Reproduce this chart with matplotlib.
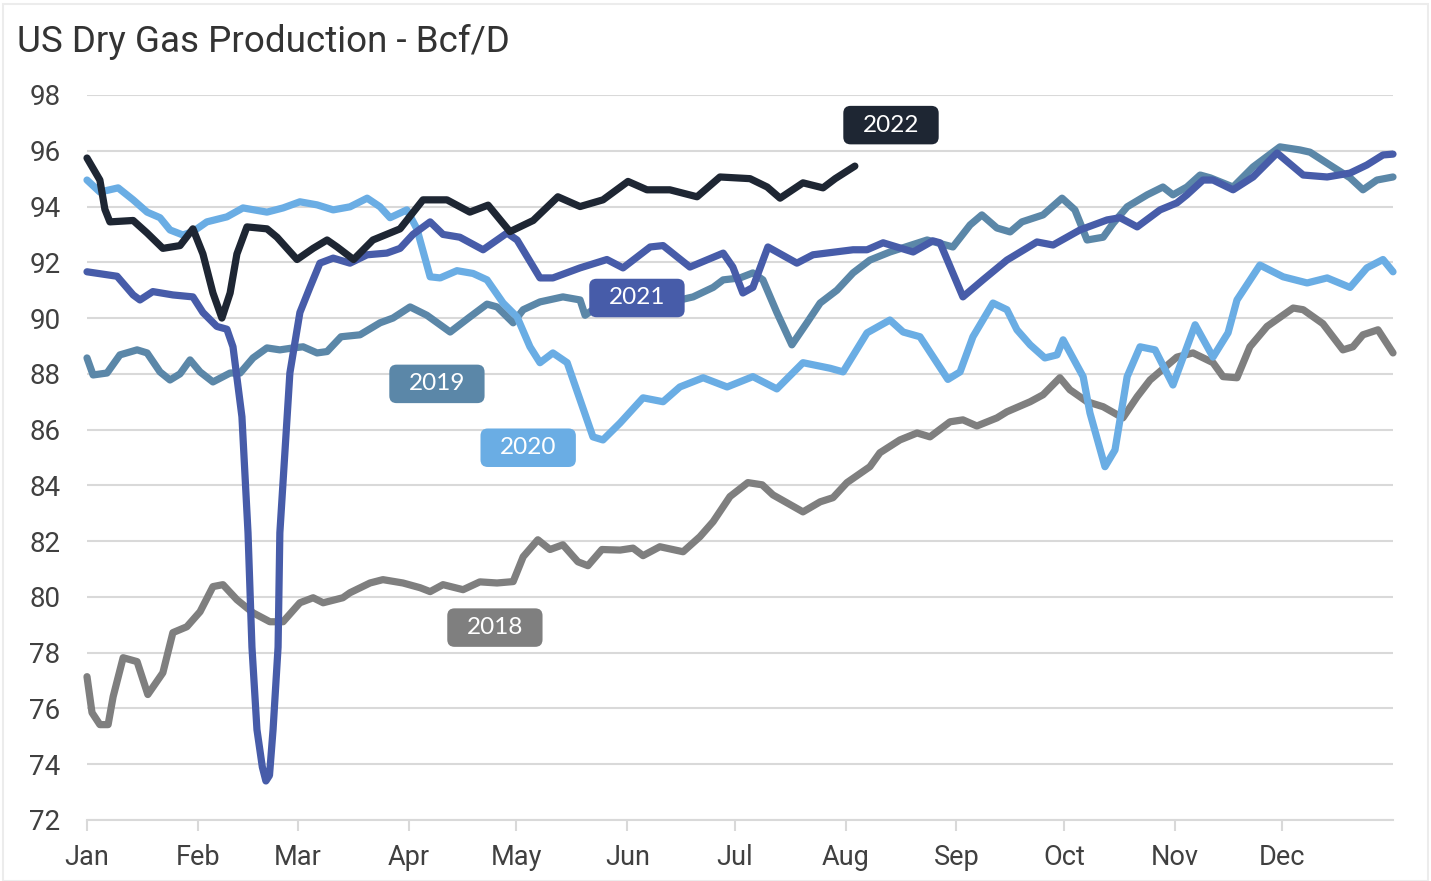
import numpy as np
import matplotlib
matplotlib.use("Agg")
import matplotlib.pyplot as plt
from matplotlib.patches import Rectangle, BoxStyle

# day of year (0 = Jan 1) and Bcf/D
days_2018 = [0, 1.4, 3.6, 5.9, 7.3, 10.1, 14.0, 17.0, 21.2, 24.0, 27.9, 31.6, 35.2, 38.0, 41.9,
             46.4, 51.1, 54.8, 59.5, 63.2, 66.0, 71.5, 73.5, 79.1, 82.7, 88.3, 93.1, 95.9, 99.5,
             105.1, 109.8, 114.6, 119.1, 121.9, 126.0, 129.4, 133.0, 137.2, 140.0, 143.9, 149.0,
             152.6, 155.4, 160.1, 166.6, 171.3, 175.0, 179.7, 184.7, 188.7, 191.7, 200.1, 204.9,
             208.5, 212.4, 218.8, 221.6, 227.2, 232.0, 235.6, 241.2, 244.8, 248.7, 254.3, 257.1,
             263.6, 267.2, 271.9, 274.7, 279.5, 284.0, 289.5, 293.5, 297.1, 304.6, 309.1, 314.7,
             317.5, 321.4, 325.0, 329.8, 337.1, 339.9, 345.4, 351.0, 353.8, 356.6, 360.8, 365]
vals_2018 = [77.14, 75.85, 75.42, 75.42, 76.42, 77.82, 77.68, 76.5, 77.28, 78.72, 78.93, 79.47,
             80.37, 80.44, 79.9, 79.43, 79.11, 79.11, 79.79, 79.97, 79.79, 79.97, 80.15, 80.5,
             80.62, 80.5, 80.33, 80.19, 80.44, 80.26, 80.54, 80.5, 80.55, 81.44, 82.05, 81.7,
             81.87, 81.26, 81.12, 81.7, 81.68, 81.75, 81.48, 81.8, 81.62, 82.16, 82.7, 83.6, 84.1,
             84.02, 83.66, 83.05, 83.41, 83.56, 84.1, 84.67, 85.17, 85.63, 85.88, 85.74, 86.28,
             86.35, 86.13, 86.42, 86.64, 87.0, 87.25, 87.86, 87.43, 87.0, 86.82, 86.42, 87.18,
             87.78, 88.6, 88.75, 88.4, 87.9, 87.86, 88.97, 89.7, 90.36, 90.3, 89.8, 88.86, 88.97,
             89.4, 89.58, 88.75]

days_2019 = [0, 1.7, 5.6, 9.2, 14.0, 16.8, 20.4, 23.2, 26.0, 28.8, 31.6, 35.2, 40.0, 42.8, 46.4,
             50.3, 53.9, 57.6, 60.4, 64.3, 67.1, 71.0, 76.3, 81.9, 85.5, 90.3, 95.0, 101.5, 107.0,
             111.8, 114.6, 119.1, 121.9, 126.6, 133.0, 137.8, 139.2, 142.5, 146.2, 156.0, 165.7,
             169.4, 175.0, 177.8, 182.5, 186.1, 188.9, 192.8, 197.0, 201.2, 204.9, 209.6, 214.1,
             218.8, 224.4, 234.8, 242.0, 246.8, 250.1, 254.3, 258.0, 261.3, 267.2, 272.5, 276.1,
             279.5, 284.0, 286.8, 290.7, 296.3, 300.7, 303.5, 307.4, 311.1, 313.9, 320.3, 325.9,
             333.4, 339.0, 341.8, 348.2, 353.0, 356.6, 360.5, 365]
vals_2019 = [88.57, 87.96, 88.03, 88.68, 88.86, 88.75, 88.07, 87.78, 88.0, 88.5, 88.07, 87.71,
             88.03, 88.03, 88.57, 88.93, 88.86, 88.93, 88.97, 88.75, 88.8, 89.33, 89.4, 89.83,
             90.0, 90.4, 90.1, 89.5, 90.04, 90.5, 90.4, 89.83, 90.3, 90.58, 90.76, 90.65, 90.1,
             90.4, 90.58, 90.6, 90.65, 90.76, 91.1, 91.37, 91.44, 91.62, 91.37, 90.2, 89.04, 89.83,
             90.54, 91.0, 91.62, 92.08, 92.37, 92.8, 92.55, 93.34, 93.7, 93.23, 93.09, 93.45, 93.7,
             94.3, 93.88, 92.8, 92.9, 93.4, 93.99, 94.42, 94.7, 94.42, 94.7, 95.13, 95.03, 94.7,
             95.42, 96.14, 96.03, 95.95, 95.42, 95.03, 94.6, 94.95, 95.06]

days_2020 = [0, 3.6, 8.7, 12.9, 16.8, 20.4, 23.2, 26.8, 29.6, 33.5, 39.1, 43.6, 50.3, 54.8, 59.5,
             64.3, 68.8, 73.5, 78.3, 81.9, 84.7, 89.4, 92.2, 95.9, 98.7, 103.4, 107.9, 111.8,
             116.3, 120.2, 123.8, 126.6, 130.2, 134.2, 137.8, 141.4, 144.2, 149.0, 155.4, 161.0,
             165.7, 172.2, 178.9, 186.1, 192.8, 200.1, 207.7, 211.3, 218.0, 224.4, 228.1, 232.8,
             240.6, 244.0, 247.6, 253.2, 257.1, 259.9, 263.6, 267.7, 271.1, 272.8, 278.4, 280.3,
             284.5, 287.3, 290.7, 294.3, 298.5, 303.5, 309.7, 314.7, 318.9, 321.4, 327.8, 334.3,
             341.0, 346.6, 353.0, 357.7, 362.2, 365]
vals_2020 = [94.95, 94.52, 94.67, 94.24, 93.8, 93.6, 93.16, 92.98, 93.1, 93.45, 93.63, 93.95,
             93.8, 93.95, 94.17, 94.06, 93.88, 93.99, 94.3, 93.99, 93.6, 93.88, 93.2, 91.48, 91.44,
             91.7, 91.6, 91.37, 90.54, 90.04, 88.97, 88.4, 88.75, 88.4, 87.07, 85.74, 85.63, 86.24,
             87.14, 87.0, 87.53, 87.86, 87.53, 87.9, 87.46, 88.4, 88.2, 88.07, 89.47, 89.93, 89.5,
             89.33, 87.8, 88.07, 89.33, 90.54, 90.3, 89.58, 89.04, 88.57, 88.68, 89.22, 87.9, 86.6,
             84.67, 85.27, 87.9, 88.97, 88.86, 87.6, 89.76, 88.6, 89.47, 90.65, 91.9, 91.48, 91.26,
             91.44, 91.1, 91.8, 92.1, 91.66]

days_2021 = [0, 8.4, 12.9, 14.8, 18.4, 24.0, 29.6, 32.4, 36.3, 39.1, 40.8, 43.3, 45.0, 46.1, 47.5,
             49.0, 50.0, 51.0, 52.0, 53.4, 53.9, 56.7, 59.5, 62.3, 65.1, 68.8, 73.5, 78.3, 83.8,
             87.5, 91.1, 95.9, 99.5, 104.2, 110.7, 117.4, 120.2, 126.6, 130.2, 137.8, 145.3, 149.8,
             157.4, 161.0, 168.5, 177.8, 180.5, 183.3, 186.1, 190.3, 198.4, 202.9, 214.1, 218.0,
             222.5, 230.9, 236.4, 238.4, 244.8, 250.4, 257.1, 265.5, 270.0, 277.5, 285.1, 288.7,
             293.5, 299.9, 304.6, 307.4, 311.9, 314.7, 320.3, 325.9, 329.8, 332.6, 339.9, 346.6,
             353.0, 357.7, 362.2, 365]
vals_2021 = [91.66, 91.5, 90.83, 90.65, 90.95, 90.83, 90.76, 90.2, 89.7, 89.6, 88.97, 86.46, 82.3,
             78.2, 75.24, 73.9, 73.4, 73.6, 75.24, 78.2, 82.3, 88.03, 90.2, 91.1, 91.97, 92.15,
             91.97, 92.27, 92.33, 92.5, 93.0, 93.45, 93.0, 92.9, 92.45, 93.05, 92.8, 91.44, 91.44,
             91.8, 92.1, 91.8, 92.55, 92.6, 91.83, 92.33, 91.83, 90.9, 91.1, 92.55, 91.97, 92.27,
             92.45, 92.45, 92.7, 92.37, 92.77, 92.7, 90.76, 91.37, 92.08, 92.73, 92.62, 93.16,
             93.52, 93.6, 93.27, 93.88, 94.13, 94.42, 94.95, 94.95, 94.6, 95.06, 95.56, 95.92,
             95.13, 95.06, 95.2, 95.49, 95.85, 95.88]

days_2022 = [0, 3.6, 5.0, 6.4, 12.9, 16.8, 21.2, 26.0, 29.6, 32.4, 35.2, 37.7, 40.0, 41.9, 44.7,
             50.3, 53.1, 58.7, 63.2, 67.1, 69.9, 74.5, 79.9, 87.5, 93.9, 100.6, 107.0, 112.1,
             118.2, 124.7, 131.6, 137.8, 144.2, 151.2, 156.5, 162.9, 170.5, 176.9, 185.3, 190.1,
             193.7, 200.1, 205.7, 209.1, 214.6]
vals_2022 = [95.74, 94.95, 93.9, 93.45, 93.5, 93.05, 92.5, 92.6, 93.2, 92.3, 90.9, 90.0, 90.9,
             92.3, 93.27, 93.2, 92.9, 92.1, 92.5, 92.8, 92.55, 92.1, 92.8, 93.2, 94.24, 94.24,
             93.8, 94.05, 93.1, 93.5, 94.35, 94.0, 94.24, 94.9, 94.6, 94.6, 94.35, 95.06, 95.0,
             94.7, 94.3, 94.85, 94.67, 95.0, 95.45]

years = ["2018", "2019", "2020", "2021", "2022"]
colors = ["#7f7f7f", "#5b87a8", "#6aade4", "#475ca9", "#1e2633"]
series = [(days_2018, vals_2018), (days_2019, vals_2019), (days_2020, vals_2020),
          (days_2021, vals_2021), (days_2022, vals_2022)]

# where the year tags sit (day, value)
tag_pos = [(114, 78.9), (97.8, 87.64), (123.3, 85.35), (153.7, 90.72), (224.7, 96.92)]

month_starts = [0, 31, 59, 90, 120, 151, 181, 212, 243, 273, 304, 334]
month_names = ["Jan", "Feb", "Mar", "Apr", "May", "Jun", "Jul", "Aug", "Sep", "Oct", "Nov", "Dec"]

# rounded tag box, wider padding sideways than up/down
_round = BoxStyle.Round(pad=0, rounding_size=0.3)


def tag_box(x0, y0, width, height, mutation_size):
    px, py = 0.8 * mutation_size, 0.36 * mutation_size
    return _round(x0 - px, y0 - py, width + 2 * px, height + 2 * py, mutation_size)


fig = plt.figure(figsize=(14.31, 8.81), dpi=100)
fig.patches.append(Rectangle((0.002, 0.0), 0.996, 0.996, transform=fig.transFigure,
                             fill=False, ec="#ececec", lw=1.5))
ax = fig.add_axes([87 / 1431, 1 - 820 / 881, 1306 / 1431, 725 / 881])

for i in range(len(years)):
    d, v = series[i]
    ax.plot(d, v, color=colors[i], lw=5.2, solid_joinstyle="round", solid_capstyle="round",
            zorder=3 + i, clip_on=False)

for i in range(len(years)):
    x, y = tag_pos[i]
    ax.text(x, y, years[i], ha="center", va="center", color="white", fontsize=17.5,
            family="Lato", zorder=10,
            bbox=dict(boxstyle=tag_box, fc=colors[i], ec="none"))

ax.set_xlim(0, 365)
ax.set_ylim(72, 98)
ax.set_yticks(np.arange(72, 99, 2))
ax.set_xticks(month_starts)
ax.set_xticklabels(month_names)
ax.grid(axis="y", color="#d9d9d9", lw=1.5)
ax.set_axisbelow(True)
for s in ["top", "right", "left"]:
    ax.spines[s].set_visible(False)
ax.spines["bottom"].set_color("#d9d9d9")
ax.spines["bottom"].set_linewidth(1.5)
ax.tick_params(axis="y", length=0, pad=19, labelsize=20, labelcolor="#404040")
ax.tick_params(axis="x", length=8, width=1.5, color="#d9d9d9", pad=9, labelsize=19.5,
               labelcolor="#404040")
for lab in ax.get_xticklabels() + ax.get_yticklabels():
    lab.set_family("Roboto")

fig.text(17 / 1431, 1 - 52 / 881, "US Dry Gas Production - Bcf/D", fontsize=26.5,
         family="Roboto", color="#333333", va="baseline", ha="left")

fig.savefig("out.png", dpi=100, facecolor="white")
